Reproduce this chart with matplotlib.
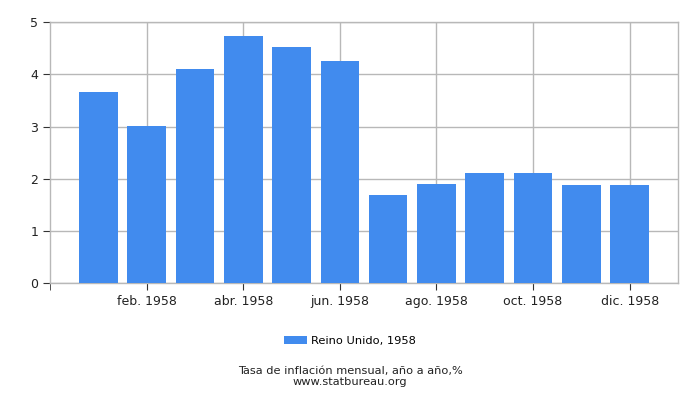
import matplotlib
matplotlib.use("Agg")
import matplotlib.pyplot as plt
import numpy as np

# Monthly inflation, United Kingdom 1958 (year on year, %)
months = ["ene. 1958", "feb. 1958", "mar. 1958", "abr. 1958", "may. 1958", "jun. 1958",
          "jul. 1958", "ago. 1958", "sep. 1958", "oct. 1958", "nov. 1958", "dic. 1958"]
values = [3.66, 3.01, 4.10, 4.74, 4.53, 4.26, 1.69, 1.90, 2.11, 2.11, 1.88, 1.88]
yticks = [0, 1, 2, 3, 4, 5]

bar_color = "#418bee"
grid_color = "#b8b8b8"

fig = plt.figure(figsize=(7, 4), dpi=100)
ax = fig.add_axes([0.0714, 0.2917, 0.8972, 0.6526])

x = np.arange(len(months))
ax.bar(x, values, width=0.8, color=bar_color, zorder=3, label="Reino Unido, 1958")

ax.set_xlim(-1, len(months))
ax.set_ylim(0, 5)
ax.set_yticks(yticks)

tick_pos = x[1::2]
ax.set_xticks(tick_pos)
ax.set_xticklabels([months[i] for i in tick_pos])
ax.set_xticks([-1], minor=True)

ax.grid(True, color=grid_color, linewidth=1, zorder=0)
for s in ax.spines.values():
    s.set_color(grid_color)
    s.set_linewidth(1)

ax.tick_params(axis="both", which="both", labelsize=9, color="#333333", length=5,
               labelcolor="#222222")
ax.tick_params(axis="x", which="minor", length=5)

ax.legend(loc="center", bbox_to_anchor=(0.5, 1 - 341 / 400), bbox_transform=fig.transFigure,
          frameon=False, fontsize=8.2, handlelength=2.0, handleheight=0.75,
          handletextpad=0.4)

fig.text(0.5, 1 - 371 / 400, "Tasa de inflación mensual, año a año,%", ha="center",
         va="center", fontsize=8.2, color="#222222")
fig.text(0.5, 1 - 382 / 400, "www.statbureau.org", ha="center", va="center",
         fontsize=8.2, color="#222222")

fig.savefig("out.png", dpi=100)
